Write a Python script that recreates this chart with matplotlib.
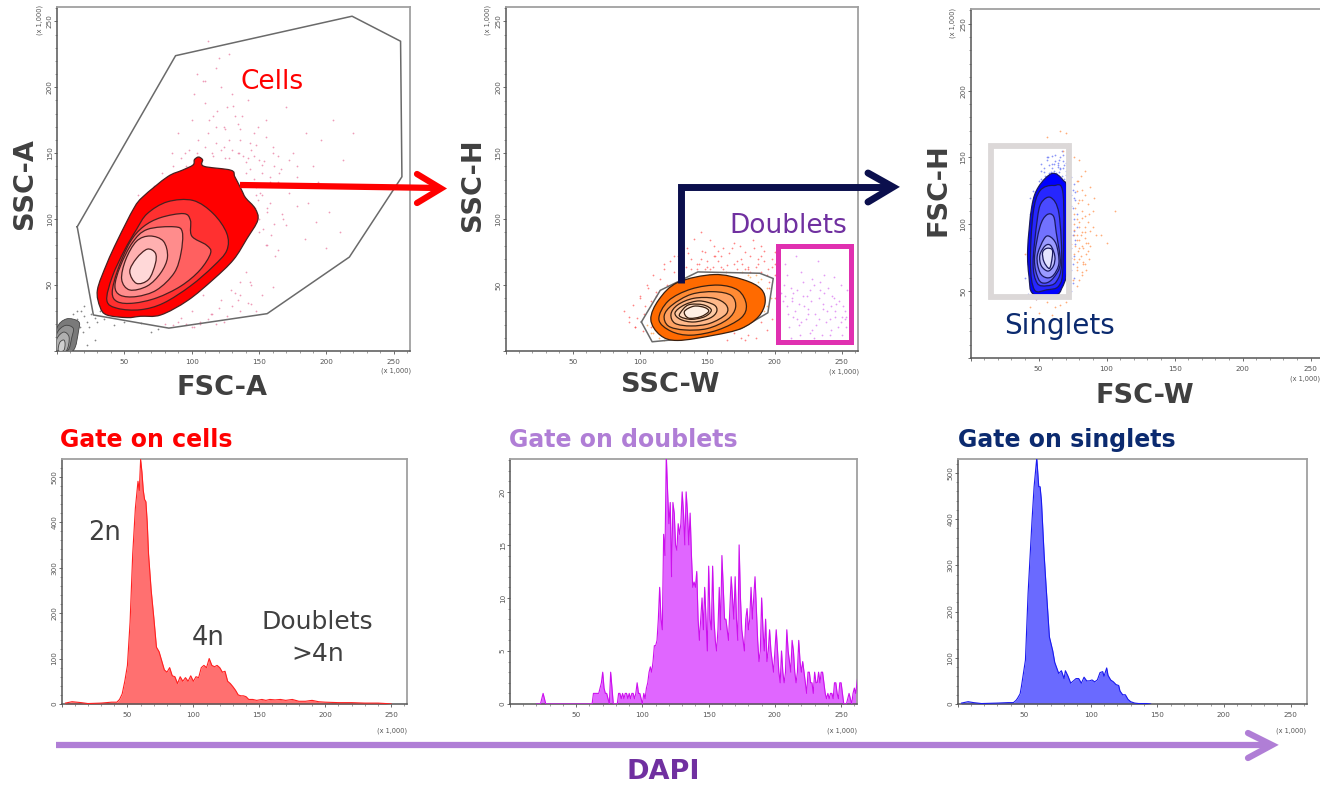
#!/usr/bin/env python
import matplotlib
matplotlib.use("Agg")
import matplotlib.pyplot as plt
from matplotlib.path import Path
from matplotlib.patches import PathPatch, Rectangle
from matplotlib.ticker import MultipleLocator, FuncFormatter

W, H = 1320, 789

# gates and density contours (x1000 units)
cells_gate_x = [15, 88, 219, 255, 256, 217, 156, 83, 27]
cells_gate_y = [94, 224, 254, 235, 132, 71, 28, 17, 27]
cells_levels = [
    ([32, 30, 37, 45, 57, 64, 82, 93, 101, 102, 105, 108, 109, 129, 132, 137, 140, 147, 149, 141, 131, 116, 97, 77, 62, 52, 37],
     [33, 46, 66, 84, 108, 117, 132, 137, 141, 145, 147, 145, 140, 137, 132, 122, 116, 108, 99, 85, 69, 54, 38, 27, 26, 25, 27]),
    ([37, 41, 50, 59, 67, 82, 101, 116, 126, 126, 116, 99, 79, 62, 45],
     [38, 56, 76, 92, 104, 113, 114, 104, 89, 76, 64, 49, 36, 31, 32]),
    ([41, 45, 54, 64, 77, 94, 99, 100, 111, 114, 106, 92, 74, 57, 45],
     [44, 61, 82, 94, 101, 104, 99, 87, 80, 74, 61, 49, 40, 36, 37]),
    ([43, 47, 56, 67, 87, 93, 92, 87, 74, 59, 47],
     [49, 64, 82, 92, 94, 90, 74, 59, 46, 41, 42]),
    ([48, 51, 59, 69, 79, 82, 77, 67, 54],
     [54, 69, 83, 87, 83, 71, 59, 49, 46]),
    ([54, 59, 67, 73, 73, 68, 59],
     [60, 70, 77, 74, 66, 54, 51]),
]
cells_colors = ["#ff0000", "#ff3030", "#ff6060", "#ff8c8c", "#ffb0b0", "#ffd8d8"]

debris_levels = [
    ([0, 0, 7, 16, 16, 12], [0, 17, 24, 22, 15, 0]),
    ([0, 0, 6, 12, 11, 8], [0, 13, 19, 17, 10, 0]),
    ([0, 0, 5, 9, 7], [0, 9, 14, 10, 0]),
    ([1, 2, 5, 6, 5], [0, 6, 8, 5, 0]),
]
debris_colors = ["#7a7a7a", "#949494", "#b0b0b0", "#cfcfcf"]

ssc_gate_x = [101, 115, 143, 189, 199, 195, 175, 140, 109]
ssc_gate_y = [22, 46, 60, 59, 55, 29, 17, 10, 7]
ssc_levels = [
    ([108, 114, 128, 155, 177, 190, 193, 188, 175, 155, 128, 115],
     [24, 39, 52, 58, 54, 47, 37, 26, 17, 12, 8, 12]),
    ([114, 121, 138, 158, 173, 179, 175, 158, 138, 123],
     [24, 38, 47, 50, 46, 35, 25, 16, 12, 15]),
    ([118, 124, 138, 155, 168, 171, 165, 150, 133, 121],
     [27, 35, 43, 45, 42, 33, 24, 17, 16, 19]),
    ([123, 128, 140, 155, 164, 164, 152, 138, 126],
     [28, 35, 40, 40, 35, 28, 21, 19, 21]),
    ([126, 133, 144, 155, 157, 152, 140, 130],
     [29, 35, 38, 35, 30, 25, 22, 24]),
    ([130, 136, 147, 153, 148, 138, 130],
     [29, 35, 35, 31, 26, 24, 26]),
    ([133, 140, 148, 151, 145, 136],
     [30, 34, 33, 30, 26, 25]),
]
ssc_colors = ["#ff6a00", "#ff8a33", "#ffa263", "#ffb98a", "#ffcba5", "#ffdcc3", "#fff0e4"]

fsc_levels = [
    ([46, 43, 42, 45, 50, 60, 68, 71, 71, 67, 62], [48, 61, 81, 113, 128, 138, 133, 123, 68, 52, 47]),
    ([47, 44, 46, 51, 61, 68, 68, 65, 56], [51, 71, 108, 125, 129, 123, 69, 54, 51]),
    ([49, 46, 49, 52, 59, 65, 67, 63, 56], [56, 71, 103, 116, 120, 108, 71, 57, 54]),
    ([50, 47, 51, 56, 61, 63, 66, 61, 55], [59, 74, 98, 107, 106, 94, 71, 60, 56]),
    ([51, 49, 54, 58, 63, 65, 61, 56], [64, 76, 89, 91, 85, 71, 62, 60]),
    ([52, 51, 55, 59, 62, 61, 57], [69, 77, 84, 84, 76, 69, 65]),
    ([54, 53, 56, 60, 60, 58], [72, 79, 82, 81, 75, 67]),
]
fsc_colors = ["#0000ff", "#2626ff", "#4a4aff", "#7272ff", "#9a9aff", "#c2c2ff", "#e4e4ff"]

# scattered events
cells_dots_x = [60, 72, 78, 85, 90, 96, 100, 105, 110, 115, 118, 122, 128, 132, 138, 142, 146, 150, 155, 160, 165, 170, 175, 180, 185, 190, 196, 205, 212, 220, 228,
                95, 102, 108, 116, 124, 130, 136, 144, 152, 158, 164, 172, 178, 186, 194, 202, 110, 118, 126, 134, 140, 148, 156, 168,
                150, 156, 162, 170, 178, 184, 192, 200, 210, 100, 92, 106, 114, 120, 126, 134, 144, 152, 160, 60, 55, 48, 44, 66, 74, 120, 112, 104, 128, 140, 125, 135,
                52, 56, 62, 68, 74, 80, 86, 92, 98, 104, 110, 116, 122, 128, 134, 140, 146, 152, 158, 164,
                112, 118, 124, 130, 136, 142, 148, 154, 160, 166, 172, 178, 113, 119, 125, 131, 137, 143, 149, 155, 161,
                150, 153, 156, 159, 152, 155, 158, 161, 164, 167, 148, 151, 146, 149, 143, 147, 140, 144, 132, 136,
                100, 106, 112, 118, 124, 130, 136, 142, 148, 108, 115, 122, 129, 136, 143, 90, 96, 102, 80, 86]
cells_dots_y = [118, 125, 135, 150, 165, 140, 175, 160, 188, 150, 170, 200, 160, 178, 148, 190, 165, 145, 175, 155, 135, 185, 150, 125, 165, 140, 160, 175, 145, 165, 125,
                150, 195, 205, 178, 155, 195, 168, 152, 135, 128, 148, 120, 140, 112, 128, 105, 205, 215, 185, 172, 135, 118, 105, 100,
                90, 80, 72, 95, 110, 85, 98, 78, 90, 30, 25, 22, 28, 32, 26, 38, 35, 42, 48, 100, 95, 80, 72, 115, 122, 222, 235, 210, 225, 212, 146, 150,
                88, 96, 108, 116, 124, 130, 140, 146, 152, 150, 155, 148, 152, 146, 150, 143, 148, 141, 132, 128,
                165, 158, 170, 152, 160, 146, 156, 144, 150, 138, 145, 132, 175, 182, 168, 186, 178, 158, 170, 162, 140,
                100, 92, 108, 88, 118, 80, 112, 96, 76, 104, 124, 120, 130, 114, 138, 108, 60, 50, 44, 52,
                18, 20, 24, 20, 22, 34, 30, 36, 30, 42, 28, 38, 46, 42, 52, 22, 20, 18, 20, 19]
debris_dots_x = [12, 15, 18, 20, 22, 25, 28, 30, 32, 24, 17, 19, 35, 42, 50, 62, 70, 75, 28, 22, 15, 20]
debris_dots_y = [28, 24, 30, 26, 22, 28, 25, 22, 30, 18, 18, 14, 24, 19, 22, 21, 14, 16, 8, 4, 30, 34]

ssc_red_x = [88, 92, 95, 98, 100, 103, 105, 108, 110, 112, 115, 118, 120, 122, 125, 128, 130, 135, 138, 140, 145, 148, 150, 155, 158, 160, 165, 170, 175, 178, 180, 185, 188, 190, 192, 195, 198, 200, 200, 96, 102, 106, 112, 118, 125, 132, 142, 152, 162, 172, 182, 190, 196, 200, 190, 180, 170, 175, 165, 155, 145,
             134, 138, 142, 146, 150, 154, 158, 162, 166, 170, 174, 178, 182, 186, 190, 194, 198, 136, 144, 152, 160, 168, 176, 184, 192, 200, 148, 156, 164, 172, 180, 188, 196, 104, 108, 100, 96, 92, 178, 186, 194, 198]
ssc_red_y = [30, 22, 35, 25, 42, 28, 50, 38, 58, 45, 55, 62, 50, 68, 60, 72, 65, 78, 62, 85, 70, 75, 64, 80, 68, 72, 65, 82, 70, 75, 64, 78, 66, 72, 68, 62, 70, 58, 75, 18, 15, 48, 42, 66, 72, 60, 66, 62, 78, 62, 60, 60, 48, 40, 22, 12, 14, 10, 8, 72, 90,
             64, 70, 62, 76, 68, 64, 76, 62, 74, 66, 80, 62, 72, 64, 80, 58, 64, 74, 66, 84, 64, 78, 66, 84, 76, 66, 62, 72, 60, 68, 62, 70, 52, 34, 18, 40, 18, 26, 8, 10, 16, 24]
ssc_orange_x = [105, 110, 114, 118, 190, 194, 197, 192, 186, 180, 120, 125, 130, 176, 182, 188, 194, 108, 112, 116]
ssc_orange_y = [20, 14, 10, 8, 55, 48, 40, 30, 58, 58, 44, 50, 54, 60, 56, 52, 34, 14, 24, 36]
doublet_dots_x = [208, 212, 216, 220, 224, 228, 232, 236, 240, 244, 248, 252, 206, 210, 214, 218, 222, 226, 230, 234, 238, 242, 246, 250, 254, 207, 211, 215, 219, 223, 227, 231, 235, 239, 243, 247, 251, 209, 213, 217, 221, 225, 229, 233, 237, 241, 245, 249, 253, 212, 218, 226, 234, 242, 250,
                  205, 209, 213, 217, 221, 225, 229, 233, 237, 241, 245, 249, 253, 257, 208, 214, 220, 228, 236, 244, 252, 256]
doublet_dots_y = [66, 48, 72, 60, 42, 55, 68, 32, 48, 56, 38, 24, 38, 28, 44, 20, 34, 14, 28, 46, 22, 16, 36, 26, 46, 50, 18, 30, 12, 24, 38, 20, 12, 30, 42, 18, 34, 58, 40, 24, 52, 32, 10, 24, 44, 12, 26, 50, 18, 10, 36, 46, 52, 34, 12,
                  44, 34, 38, 46, 42, 28, 50, 40, 58, 24, 30, 22, 26, 36, 42, 26, 22, 16, 36, 40, 30, 42]

fsc_blue_x = [52, 56, 60, 62, 64, 66, 68, 70, 72, 74, 58, 61, 65, 67, 69, 72, 74, 76, 75, 73, 76, 77, 74, 72, 78, 76, 42, 45, 48, 50, 40, 44, 52, 46, 60, 64, 68, 55, 63, 66, 70, 72, 57,
              54, 58, 62, 66, 70, 56, 60, 64, 68, 72, 59, 63, 67, 71, 61, 65, 69, 73, 75, 77, 74, 76, 78, 73, 75, 77, 74, 76, 73, 75, 74, 76, 73, 75, 77, 74,
              50, 48, 46, 44, 52, 54, 72, 70, 42, 44, 46, 48, 64, 68, 58, 62]
fsc_blue_y = [140, 148, 145, 152, 144, 150, 142, 146, 138, 135, 138, 140, 148, 155, 134, 128, 122, 130, 112, 100, 95, 85, 75, 65, 108, 60, 48, 52, 46, 132, 60, 120, 145, 125, 142, 146, 152, 136, 138, 142, 140, 150, 150,
              142, 144, 147, 141, 137, 150, 151, 143, 147, 142, 139, 137, 136, 133, 145, 139, 144, 130, 126, 118, 114, 104, 98, 118, 92, 88, 82, 76, 110, 70, 66, 120, 104, 56, 124, 50,
              126, 120, 118, 108, 134, 139, 50, 47, 70, 96, 46, 44, 47, 46, 45, 46]
fsc_orange_x = [56, 60, 66, 70, 72, 76, 80, 84, 88, 78, 82, 86, 90, 76, 80, 84, 88, 92, 78, 82, 86, 76, 80, 84, 78, 82, 76, 80, 74, 78, 82, 96, 100, 106, 44, 50, 56, 62, 48, 54, 60, 66, 40, 70, 68, 72, 78, 84,
                76, 78, 80, 82, 84, 86, 77, 79, 81, 83, 85, 87, 76, 78, 80, 82, 84, 86, 88, 77, 79, 81, 83, 85, 76, 78, 80, 82, 84, 80, 82, 79, 83, 81, 85, 87, 90, 91, 75, 78, 72]
fsc_orange_y = [165, 160, 170, 168, 155, 150, 148, 140, 128, 125, 118, 115, 110, 108, 102, 98, 95, 92, 88, 84, 80, 78, 74, 70, 66, 62, 92, 58, 85, 72, 105, 92, 86, 110, 38, 34, 42, 38, 44, 46, 32, 40, 78, 42, 155, 160, 132, 122,
                96, 92, 88, 94, 90, 86, 84, 80, 76, 82, 78, 74, 100, 104, 98, 110, 106, 102, 84, 112, 116, 92, 70, 86, 74, 68, 82, 64, 94, 118, 126, 132, 72, 136, 66, 108, 98, 120, 58, 54, 48]

# histograms
cells_hist_x = [3, 8, 15, 20, 30, 38, 42, 44, 46, 48, 50, 52, 54, 56, 58, 59, 60, 61, 62, 63, 64, 65, 66, 68, 70, 72, 74, 76, 78, 80, 82, 84, 86, 88, 90, 92, 94, 96, 98, 100, 102, 104, 106, 108, 110, 112, 114, 116, 118, 120, 122, 124, 126, 128, 130, 132, 134, 136, 138, 140, 142, 145, 148, 152, 155, 158, 162, 166, 170, 175, 180, 185, 190, 195, 200, 210, 220, 230, 240, 246, 250]
cells_hist_y = [2, 5, 3, 1, 2, 4, 4, 10, 22, 50, 85, 180, 330, 430, 490, 470, 538, 510, 470, 450, 445, 400, 330, 250, 190, 125, 115, 95, 75, 70, 80, 62, 60, 45, 60, 50, 58, 50, 62, 50, 60, 58, 80, 85, 80, 100, 85, 82, 85, 80, 70, 72, 50, 45, 38, 30, 20, 18, 18, 16, 10, 10, 8, 10, 8, 10, 9, 10, 8, 10, 6, 6, 8, 5, 4, 3, 3, 2, 2, 1, 0]

singlets_hist_x = [3, 8, 12, 18, 30, 38, 42, 44, 45, 47, 48, 51, 53, 56, 57.5, 59.5, 61, 62, 63, 65, 66.5, 69, 71.5, 73, 76, 78, 80, 81, 83, 85, 87, 89, 91, 93, 95, 97, 99, 101, 103, 105, 107, 109, 110, 112, 113, 115, 117, 119, 121, 122, 124, 126, 128, 130, 133, 136, 142, 145]
singlets_hist_y = [2, 5, 3, 1, 2, 3, 3, 8, 12, 22, 38, 95, 240, 400, 470, 532, 470, 470, 440, 325, 255, 145, 115, 90, 66, 72, 55, 72, 60, 45, 50, 55, 55, 45, 58, 50, 50, 52, 48, 52, 68, 70, 60, 78, 62, 52, 48, 42, 40, 28, 20, 20, 10, 5, 2, 1, 1, 0]

doublets_hist_start = 20
doublets_hist_y = [0, 0, 0, 0, 0.5, 1, 0.5, 0, 0, 0,
                   0, 0, 0, 0, 0, 0, 0, 0, 0, 0,
                   0, 0, 0, 0, 0, 0, 0, 0, 0, 0,
                   0, 0, 0, 0, 0, 0, 0, 0, 0, 0,
                   0, 0, 0, 1, 1, 1, 1, 1, 1.5, 2,
                   3, 1.5, 1, 1, 0.5, 0, 3, 1.5, 0, 0,
                   0, 0, 1, 1, 0.5, 1, 0.5, 1, 1, 0.5,
                   1, 0.5, 1, 1, 0.5, 1, 2, 1, 1, 0.5,
                   0, 1, 0.5, 1.5, 2, 3, 3.5, 3, 4, 5.5,
                   5.5, 6, 8, 11, 8, 7, 16, 14, 23.5, 20,
                   17, 19, 12, 19, 18, 15, 14.5, 17, 16, 17,
                   20, 18, 15, 20, 18, 15, 18, 14, 11, 11.5,
                   11, 12.5, 8, 6, 8, 10, 7, 11, 8, 5,
                   13, 8, 7, 13, 8, 6, 5, 7, 11, 7,
                   14, 11, 8, 8, 7, 6, 9, 12, 10, 8,
                   12, 8, 6, 15, 10, 7, 6, 5, 8, 9,
                   7, 8, 11, 8, 10, 12, 9, 6, 4, 5,
                   10, 7, 5, 8, 4, 5, 7, 5, 4, 3,
                   5, 7, 5, 3, 2, 5, 3, 2, 3, 7,
                   5, 4, 3, 6, 5, 3, 2, 3, 6, 4,
                   3, 4, 3, 2, 1, 3, 3, 2, 2, 1,
                   3, 2, 2, 3, 2, 3, 3, 2, 1, 0.5,
                   1, 0.5, 1, 1, 0.5, 2, 2, 1, 0.5, 2,
                   2, 1, 0, 0, 0, 0.5, 1, 0.5, 0, 1,
                   1.5, 1, 2, 3]

fig = plt.figure(figsize=(W / 100, H / 100), dpi=100, facecolor="white")
hide_zero = FuncFormatter(lambda v, pos: "" if v == 0 else f"{v:g}")


def make_axes(left, top, right, bottom, xlim, ylim, ymajor, yminor, show_y_zero=False):
    ax = fig.add_axes([left / W, 1 - bottom / H, (right - left) / W, (bottom - top) / H])
    ax.set_xlim(*xlim)
    ax.set_ylim(*ylim)
    ax.xaxis.set_major_locator(MultipleLocator(50))
    ax.xaxis.set_minor_locator(MultipleLocator(10))
    ax.yaxis.set_major_locator(MultipleLocator(ymajor))
    ax.yaxis.set_minor_locator(MultipleLocator(yminor))
    ax.xaxis.set_major_formatter(hide_zero)
    if not show_y_zero:
        ax.yaxis.set_major_formatter(hide_zero)
    ax.tick_params(which="major", length=2.5, width=0.6, labelsize=5.2, colors="#555555")
    ax.tick_params(axis="x", which="major", pad=3.5)
    ax.tick_params(axis="y", which="major", pad=0.5, labelrotation=90)
    ax.tick_params(which="minor", length=1.5, width=0.5, colors="#777777")
    for lab in ax.get_yticklabels():
        lab.set_va("center")
    for side in ["top", "right"]:
        ax.spines[side].set_color("#a0a0a0")
        ax.spines[side].set_linewidth(1.3)
    for side in ["left", "bottom"]:
        ax.spines[side].set_color("#555555")
        ax.spines[side].set_linewidth(1.1)
    return ax


def blob(ax, xs, ys, color, edge="#4a2020", lw=0.9):
    # closed smooth curve through the read vertices
    pts = list(zip(xs, ys))
    n = len(pts)
    verts = [pts[0]]
    codes = [Path.MOVETO]
    for i in range(n):
        p0, p1, p2, p3 = pts[i - 1], pts[i], pts[(i + 1) % n], pts[(i + 2) % n]
        c1 = (p1[0] + (p2[0] - p0[0]) / 6, p1[1] + (p2[1] - p0[1]) / 6)
        c2 = (p2[0] - (p3[0] - p1[0]) / 6, p2[1] - (p3[1] - p1[1]) / 6)
        verts += [c1, c2, p2]
        codes += [Path.CURVE4, Path.CURVE4, Path.CURVE4]
    ax.add_patch(PathPatch(Path(verts, codes), facecolor=color, edgecolor=edge, linewidth=lw, zorder=4))


def gate(ax, xs, ys):
    ax.plot(xs + xs[:1], ys + ys[:1], color="#6a6a6a", lw=1.1, zorder=3)


def dots(ax, xs, ys, color, alpha=0.7):
    ax.scatter(xs, ys, s=1.6, color=color, alpha=alpha, linewidths=0, zorder=2)


def histogram(ax, xs, ys, fill, line):
    ax.fill_between(xs, ys, 0, color=fill, lw=0, zorder=2)
    ax.plot(xs, ys, color=line, lw=0.8, zorder=3)


# top row
ax1 = make_axes(57, 7, 410, 350.5, (0, 262), (0, 261), 50, 10)
dots(ax1, cells_dots_x, cells_dots_y, "#e8729a")
dots(ax1, debris_dots_x, debris_dots_y, "#555555")
gate(ax1, cells_gate_x, cells_gate_y)
for (xs, ys), c in zip(cells_levels, cells_colors):
    blob(ax1, xs, ys, c)
for (xs, ys), c in zip(debris_levels, debris_colors):
    blob(ax1, xs, ys, c, edge="#444444", lw=0.6)

ax2 = make_axes(505.5, 7, 858, 351, (0, 262), (0, 261), 50, 10)
dots(ax2, ssc_red_x, ssc_red_y, "#ff5050")
dots(ax2, ssc_orange_x, ssc_orange_y, "#ff9a40")
dots(ax2, doublet_dots_x, doublet_dots_y, "#d870f0")
gate(ax2, ssc_gate_x, ssc_gate_y)
for (xs, ys), c in zip(ssc_levels, ssc_colors):
    blob(ax2, xs, ys, c, edge="#3a2010")

ax3 = make_axes(970.5, 9, 1327, 358, (0, 262), (0, 261), 50, 10)
dots(ax3, fsc_blue_x, fsc_blue_y, "#5a6af5")
dots(ax3, fsc_orange_x, fsc_orange_y, "#ff8a40")
for (xs, ys), c in zip(fsc_levels, fsc_colors):
    blob(ax3, xs, ys, c, edge="#1a1a60")

# bottom row
ax4 = make_axes(61.5, 459, 407, 704, (0, 262), (0, 539), 100, 20, show_y_zero=True)
histogram(ax4, cells_hist_x, cells_hist_y, "#ff7070", "#ff2020")
ax5 = make_axes(510, 459, 857, 704, (0, 262), (0, 23.1), 5, 1, show_y_zero=True)
doublets_hist_x = [doublets_hist_start + i for i in range(len(doublets_hist_y))]
histogram(ax5, doublets_hist_x, doublets_hist_y, "#e066ff", "#cc10ee")
ax6 = make_axes(957.5, 459, 1306.5, 704, (0, 262), (0, 530), 100, 20, show_y_zero=True)
histogram(ax6, singlets_hist_x, singlets_hist_y, "#6a6aff", "#1a1aee")

# annotation layer in pixel coordinates
top = fig.add_axes([0, 0, 1, 1], zorder=20)
top.set_xlim(0, W)
top.set_ylim(H, 0)
top.axis("off")
top.patch.set_alpha(0)


def arrow(xs, ys, head_x, head_y, color, lw):
    top.plot(xs, ys, color=color, lw=lw, solid_capstyle="butt", solid_joinstyle="miter")
    top.plot(head_x, head_y, color=color, lw=lw, solid_capstyle="round", solid_joinstyle="miter")


arrow([240, 440], [185, 188], [417, 441, 417], [174, 188.5, 203], "#ff0000", 4.5)
arrow([681, 681, 890], [283, 187, 187], [868, 893, 868], [173, 187, 202], "#0b0f4d", 5)
arrow([56, 1268], [745, 745], [1248, 1272, 1248], [733, 745, 758], "#b07ed6", 4.5)

top.add_patch(Rectangle((778, 246), 73, 96, fill=False, edgecolor="#e030b0", lw=3.6))
top.add_patch(Rectangle((991, 146), 78, 151, fill=False, edgecolor="#dcd8d8", lw=4.2))

scale_labels = [(396, 371), (844, 372), (1305, 379), (392, 731), (842, 731), (1291, 731)]
for x, y in scale_labels:
    top.text(x, y, "(x 1,000)", fontsize=4.8, color="#555555", ha="center", va="center")
for x, y in [(40, 20), (488, 20), (953, 23)]:
    top.text(x, y, "(x 1,000)", fontsize=4.8, color="#555555", ha="center", va="center", rotation=90)

axis_labels = [
    ("FSC-A", 222, 388, 0), ("SSC-A", 25, 184, 90),
    ("SSC-W", 670, 385, 0), ("SSC-H", 473, 185, 90),
    ("FSC-W", 1145, 396, 0), ("FSC-H", 938, 190, 90),
]
for txt, x, y, rot in axis_labels:
    top.text(x, y, txt, fontsize=19.5, fontweight="bold", color="#404040", ha="center", va="center", rotation=rot)

top.text(272, 82, "Cells", fontsize=19, color="#ff0000", ha="center", va="center")
top.text(788, 226, "Doublets", fontsize=19, color="#7030a0", ha="center", va="center")
top.text(1060, 326, "Singlets", fontsize=20, color="#0b2a6f", ha="center", va="center")

top.text(60, 440, "Gate on cells", fontsize=17, fontweight="bold", color="#ff0000", ha="left", va="center")
top.text(509, 440, "Gate on doublets", fontsize=17, fontweight="bold", color="#b07ed6", ha="left", va="center")
top.text(958, 440, "Gate on singlets", fontsize=17, fontweight="bold", color="#0b2a6f", ha="left", va="center")

top.text(105, 533, "2n", fontsize=18.5, color="#404040", ha="center", va="center")
top.text(208, 638, "4n", fontsize=18.5, color="#404040", ha="center", va="center")
top.text(317, 622, "Doublets", fontsize=18, color="#404040", ha="center", va="center")
top.text(318, 654, ">4n", fontsize=18, color="#404040", ha="center", va="center")
top.text(663, 772, "DAPI", fontsize=19.5, fontweight="bold", color="#7030a0", ha="center", va="center")

fig.savefig("out.png", dpi=100, facecolor="white")
